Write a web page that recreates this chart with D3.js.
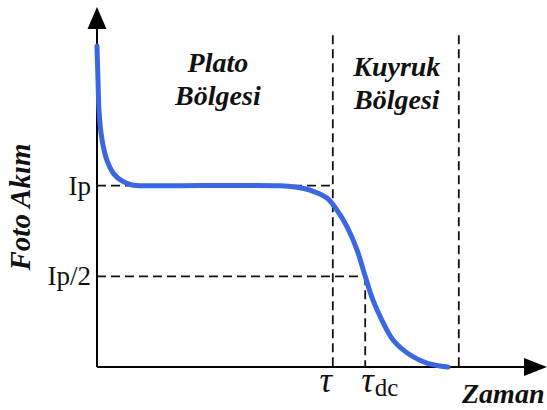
<!DOCTYPE html>
<html>
<head>
<meta charset="utf-8">
<script src="https://cdn.jsdelivr.net/npm/d3@7"></script>
<style>
  html, body { margin: 0; padding: 0; background: #fff; }
  svg { display: block; }
  text { font-family: "Liberation Serif", "Times New Roman", serif; fill: #111; }
</style>
</head>
<body>
<svg id="chart" width="547" height="410"></svg>
<script>
// Photocurrent decay: time (arbitrary units) and current relative to plateau Ip
const time    = [0, 0.022, 0.044, 0.089, 0.156, 0.244, 0.378, 0.556, 0.778, 1.07, 4.07, 4.40, 4.73, 5.11, 5.33, 5.56, 5.78, 5.96, 6.13, 6.33, 6.58, 6.96, 7.33, 7.80];
const current = [1.77, 1.583, 1.418, 1.291, 1.197, 1.125, 1.064, 1.026, 1.004, 1.0, 1.0, 0.993, 0.976, 0.932, 0.866, 0.772, 0.645, 0.5, 0.370, 0.259, 0.149, 0.066, 0.022, 0];

// Current levels marked on the vertical axis
const yLevels = [1, 0.5];
const yLabels = ["Ip", "Ip/2"];

// Characteristic times: τ, τdc and end of tail region
const tau = 5.24;
const tauDc = 5.96;
const tailEnd = 8.04;

const regionNames = [["Plato", "Bölgesi"], ["Kuyruk", "Bölgesi"]];
const axisTitles = { x: "Zaman", y: "Foto Akım" };

const svg = d3.select("#chart");

const x = d3.scaleLinear().domain([0, 10]).range([97, 547]);
const y = d3.scaleLinear().domain([0, 1]).range([367, 185.7]);

// dashed guide lines
const dash = "9,5";
const guides = svg.append("g").attr("stroke", "#111").attr("stroke-width", 1.8)
  .attr("stroke-dasharray", dash).attr("fill", "none");

guides.append("line")
  .attr("x1", x(0)).attr("x2", x(tau))
  .attr("y1", y(yLevels[0])).attr("y2", y(yLevels[0]));
guides.append("line")
  .attr("x1", x(0)).attr("x2", x(tauDc))
  .attr("y1", y(yLevels[1])).attr("y2", y(yLevels[1]));
guides.append("line")
  .attr("x1", x(tau)).attr("x2", x(tau))
  .attr("y1", y(1.83)).attr("y2", y(0));
guides.append("line")
  .attr("x1", x(tauDc)).attr("x2", x(tauDc))
  .attr("y1", y(yLevels[1])).attr("y2", y(0));
guides.append("line")
  .attr("x1", x(tailEnd)).attr("x2", x(tailEnd))
  .attr("y1", y(1.83)).attr("y2", y(0));

// axes with arrowheads
const axes = svg.append("g");
axes.append("line")
  .attr("x1", x(0)).attr("x2", x(0))
  .attr("y1", y(0)).attr("y2", y(1.9))
  .attr("stroke", "#000").attr("stroke-width", 2);
axes.append("line")
  .attr("x1", x(0)).attr("x2", x(9.6))
  .attr("y1", y(0)).attr("y2", y(0))
  .attr("stroke", "#000").attr("stroke-width", 2);
const ax0 = x(0), ay0 = y(0);
const yTip = y(1.986);
axes.append("path")
  .attr("d", `M${ax0},${yTip} L${ax0 - 9.5},${yTip + 22} L${ax0 + 9.5},${yTip + 22} Z`)
  .attr("fill", "#000");
const xTip = x(10);
axes.append("path")
  .attr("d", `M${xTip},${ay0} L${xTip - 23},${ay0 - 9} L${xTip - 23},${ay0 + 9} Z`)
  .attr("fill", "#000");

// photocurrent curve
const pts = time.map((t, i) => [t, current[i]]);
const line = d3.line()
  .x(d => x(d[0]))
  .y(d => y(d[1]))
  .curve(d3.curveCatmullRom.alpha(0.5));
svg.append("path")
  .datum(pts)
  .attr("d", line)
  .attr("fill", "none")
  .attr("stroke", "#3b68e2")
  .attr("stroke-width", 5)
  .attr("stroke-linecap", "round")
  .attr("stroke-linejoin", "round");

// vertical axis level labels
svg.append("g").selectAll("text")
  .data(yLevels)
  .join("text")
  .attr("x", x(0) - 6)
  .attr("y", d => y(d) + 9)
  .attr("text-anchor", "end")
  .attr("font-size", 27)
  .text((d, i) => yLabels[i]);

// time labels under axis
svg.append("text")
  .attr("x", x(tau) - 7)
  .attr("y", 392)
  .attr("text-anchor", "middle")
  .attr("font-size", 35)
  .attr("font-style", "italic")
  .text("τ");
const tdc = svg.append("text")
  .attr("x", x(tauDc) - 4)
  .attr("y", 392)
  .attr("font-size", 35);
tdc.append("tspan").attr("font-style", "italic").text("τ");
tdc.append("tspan").attr("font-size", 25).attr("dy", 4).attr("dx", 1).text("dc");

// region titles
const regionCenters = [(x(0) + x(tau)) / 2 + 3, (x(tau) + x(tailEnd)) / 2 + 1];
const regionBase = [72, 76];
regionNames.forEach((lines, i) => {
  const t = svg.append("text")
    .attr("text-anchor", "middle")
    .attr("font-size", 28)
    .attr("font-weight", "bold")
    .attr("font-style", "italic");
  lines.forEach((s, j) => {
    t.append("tspan")
      .attr("x", regionCenters[i])
      .attr("y", regionBase[i] + j * 33)
      .text(s);
  });
});

// axis titles
svg.append("text")
  .attr("x", 462)
  .attr("y", 403)
  .attr("font-size", 28)
  .attr("font-weight", "bold")
  .attr("font-style", "italic")
  .text(axisTitles.x);
svg.append("text")
  .attr("transform", "translate(30,207) rotate(-90)")
  .attr("text-anchor", "middle")
  .attr("font-size", 29)
  .attr("font-weight", "bold")
  .attr("font-style", "italic")
  .text(axisTitles.y);
</script>
</body>
</html>
